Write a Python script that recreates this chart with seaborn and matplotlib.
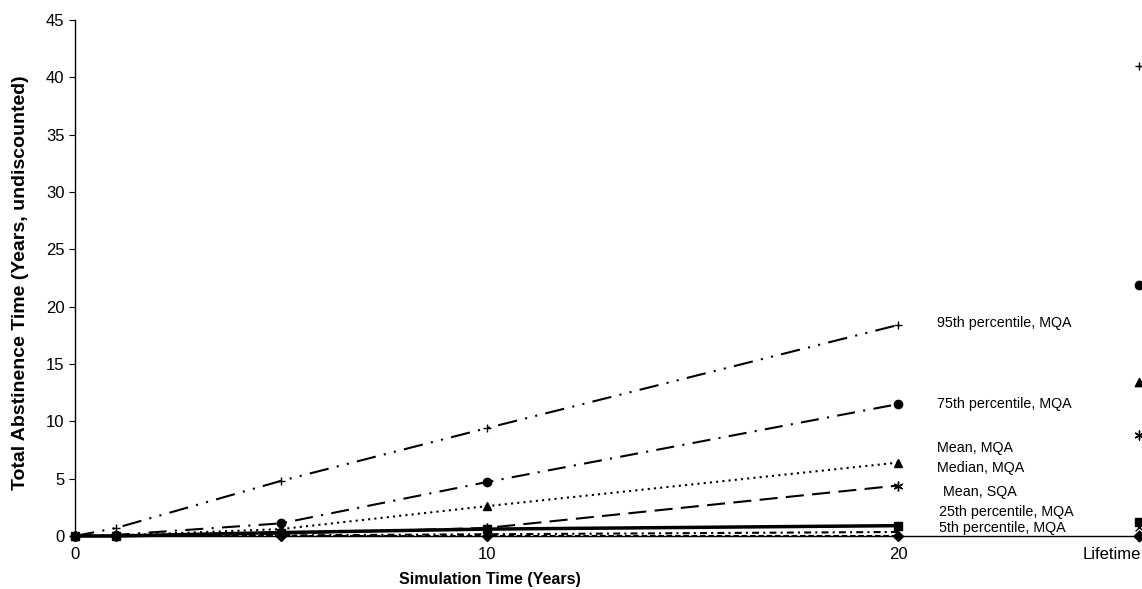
import seaborn as sns
import matplotlib.pyplot as plt

# simulation years and the separate "Lifetime" column
years = [0, 1, 5, 10, 20]
lifetime_x = 25.85

p95_mqa = [0, 0.7, 4.8, 9.4, 18.4]
p75_mqa = [0, 0.1, 1.1, 4.7, 11.5]
mean_mqa = [0, 0.05, 0.6, 2.6, 6.4]
median_mqa = [0, 0.0, 0.05, 0.15, 0.35]
mean_sqa = [0, 0.02, 0.2, 0.7, 4.4]
p25_mqa = [0, 0.0, 0.3, 0.6, 0.9]
p5_mqa = [0, 0, 0, 0, 0]

lifetime = {
    "95th percentile, MQA": 41.0,
    "75th percentile, MQA": 21.9,
    "Mean, MQA": 13.4,
    "Median, MQA": 0.8,
    "Mean, SQA": 8.8,
    "25th percentile, MQA": 1.2,
    "5th percentile, MQA": 0.0,
}

sns.set_style("white")
plt.rcParams["font.family"] = ["Liberation Sans", "DejaVu Sans"]
plt.rcParams["lines.scale_dashes"] = False
plt.rcParams["text.color"] = "black"
plt.rcParams["axes.labelcolor"] = "black"
plt.rcParams["xtick.color"] = "black"
plt.rcParams["ytick.color"] = "black"

series = [
    ("95th percentile, MQA", p95_mqa, "+", (0, (14, 6, 1.5, 6, 1.5, 6)), 1.5, 6),
    ("75th percentile, MQA", p75_mqa, "o", (0, (13, 6, 1.5, 6)), 1.5, 6),
    ("Mean, MQA", mean_mqa, "^", (0, (1.5, 3)), 1.5, 6),
    ("Median, MQA", median_mqa, None, (0, (5, 3, 1.5, 3)), 1.5, 5),
    ("Mean, SQA", mean_sqa, (6, 2, 0), (0, (13, 6)), 1.5, 7),
    ("25th percentile, MQA", p25_mqa, "s", "-", 2.5, 6),
    ("5th percentile, MQA", p5_mqa, "D", (0, (4, 2)), 1.5, 5),
]

fig = plt.figure(figsize=(11.42, 5.89), dpi=100)
ax = fig.add_axes([0.0657, 0.09, 0.9343, 0.876])

for name, vals, mk, ls, lw, ms in series:
    sns.lineplot(x=years, y=vals, ax=ax, color="black", marker=mk,
                 linestyle=ls, linewidth=lw, markersize=ms,
                 markeredgecolor="black", markeredgewidth=1.0, clip_on=False)
    life_mk = mk if mk is not None else "x"
    sns.scatterplot(x=[lifetime_x], y=[lifetime[name]], ax=ax, color="black",
                    marker=life_mk, s=ms * 6, edgecolor="black",
                    linewidth=1.0, clip_on=False)

# labels next to the 20-year points
labels = [
    ("95th percentile, MQA", 20.95, 18.6),
    ("75th percentile, MQA", 20.95, 11.5),
    ("Mean, MQA", 20.95, 7.67),
    ("Median, MQA", 20.95, 5.93),
    ("Mean, SQA", 21.1, 3.84),
    ("25th percentile, MQA", 21.0, 2.09),
    ("5th percentile, MQA", 21.0, 0.70),
]
for text, lx, ly in labels:
    ax.text(lx, ly, text, fontsize=10.3, va="center", ha="left")

ax.set_xlim(0, 25.93)
ax.set_ylim(0, 45)
ax.set_yticks(range(0, 50, 5))
ax.set_xticks([0, 10, 20, 25.2])
ax.set_xticklabels(["0", "10", "20", "Lifetime"])
ax.tick_params(axis="x", length=0, labelsize=12, pad=8)
ax.tick_params(axis="y", length=4, direction="out", left=True, labelsize=12)

for side in ["top", "right"]:
    ax.spines[side].set_visible(False)
for side in ["left", "bottom"]:
    ax.spines[side].set_color("black")
    ax.spines[side].set_linewidth(1.0)

ax.set_xlabel("Simulation Time (Years)", fontsize=11.5, fontweight="bold")
ax.xaxis.set_label_coords((490 - 75) / (1142 - 75), -0.07)
ax.set_ylabel("Total Abstinence Time (Years, undiscounted)", fontsize=14,
              fontweight="bold")
ax.yaxis.set_label_coords(-46 / (1142 - 75), 0.49)

fig.savefig("out.png", dpi=100)
